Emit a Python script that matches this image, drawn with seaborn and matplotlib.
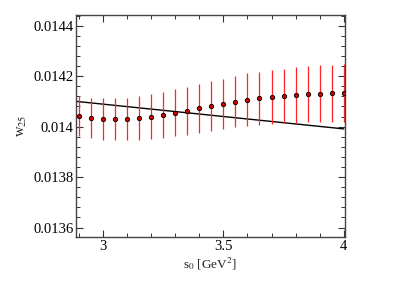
import numpy as np
import pandas as pd
import matplotlib
matplotlib.use("Agg")
import matplotlib.pyplot as plt
import seaborn as sns
from matplotlib.ticker import MultipleLocator

s0 = [2.90, 2.95, 3.00, 3.05, 3.10, 3.15, 3.20, 3.25, 3.30, 3.35, 3.40, 3.45,
      3.50, 3.55, 3.60, 3.65, 3.70, 3.75, 3.80, 3.85, 3.90, 3.95, 4.00]
w25 = [0.014043, 0.014034, 0.014030, 0.014029, 0.014030, 0.014034, 0.014039,
       0.014046, 0.014055, 0.014063, 0.014072, 0.014082, 0.014090, 0.014099,
       0.014107, 0.014112, 0.014118, 0.014122, 0.014126, 0.014129, 0.014131,
       0.014133, 0.014134]
w25_err = [0.000080, 0.000080, 0.000082, 0.000084, 0.000085, 0.000087, 0.000089,
           0.000091, 0.000093, 0.000095, 0.000097, 0.000098, 0.000100, 0.000102,
           0.000104, 0.000105, 0.000107, 0.000108, 0.000110, 0.000111, 0.000112,
           0.000113, 0.000114]
line_s0 = [2.889, 4.0]
line_w25 = [0.014100, 0.013991]

sns.set_theme(style="ticks")
plt.rcParams['font.family'] = ['Liberation Serif', 'DejaVu Serif']
plt.rcParams['mathtext.fontset'] = 'stix'

fig, ax = plt.subplots(figsize=(4.03, 2.85), dpi=100)
fig.subplots_adjust(left=0.189, right=0.856, top=0.947, bottom=0.168)

df = pd.DataFrame({"s0": s0, "w25": w25, "err": w25_err})
ax.errorbar(df["s0"], df["w25"], yerr=df["err"], fmt="none", ecolor="#ff2525",
            elinewidth=0.9, capsize=0, zorder=2)
sns.scatterplot(data=df, x="s0", y="w25", ax=ax, color="#cc0000", edgecolor="black",
                linewidth=0.6, s=10, zorder=3, legend=False)
ldf = pd.DataFrame({"s0": line_s0, "w25": line_w25})
sns.lineplot(data=ldf, x="s0", y="w25", ax=ax, color="black", linewidth=1.0, zorder=1)

ax.set_xlim(2.889, 4.005)
ax.set_ylim(0.013562, 0.014442)
ax.xaxis.set_minor_locator(MultipleLocator(0.1))
ax.yaxis.set_minor_locator(MultipleLocator(0.00004))
ax.set_xticks([3, 3.5, 4])
ax.set_xticklabels(["3", "3.5", "4"])
ax.set_yticks([0.0136, 0.0138, 0.014, 0.0142, 0.0144])
ax.set_yticklabels(["0.0136", "0.0138", "0.014", "0.0142", "0.0144"])

ax.tick_params(which="both", direction="in", top=True, right=True, colors="#333333",
               labelcolor="black", labelsize=10.5, pad=2)
ax.tick_params(which="major", length=5, width=0.8)
ax.tick_params(which="minor", length=3, width=0.7)
for sp in ax.spines.values():
    sp.set_color("#444444")
    sp.set_linewidth(1.0)

ax.set_xlabel(r"s$_0$ [GeV$^2$]", fontsize=9.5, labelpad=2)
ax.set_ylabel(r"w$_{25}$", fontsize=10.5, labelpad=3)

fig.savefig("out.png", dpi=100)
